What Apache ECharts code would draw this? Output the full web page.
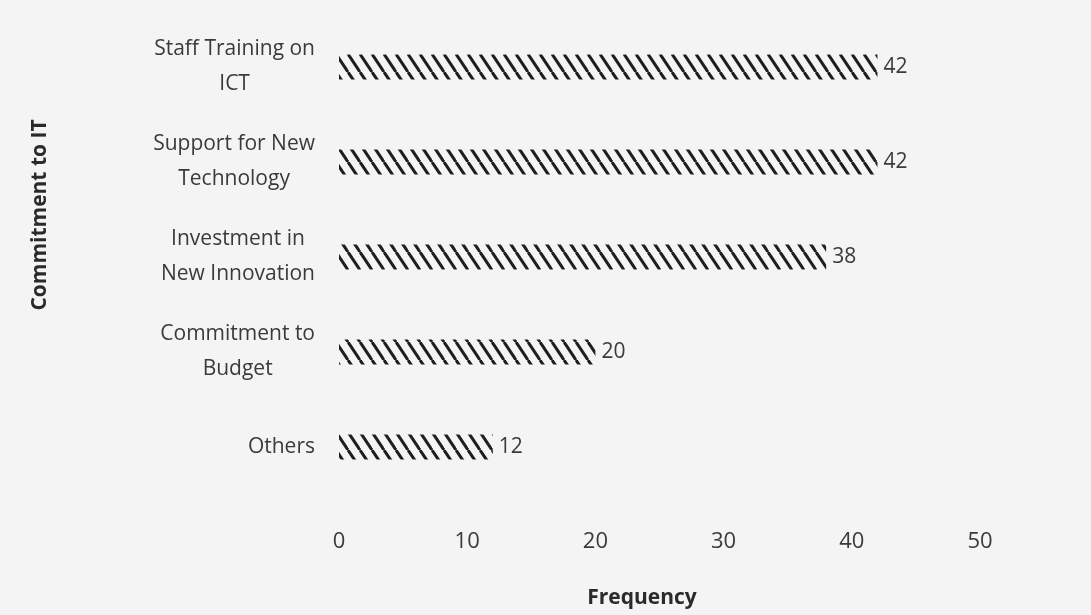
<!DOCTYPE html>
<html>
<head>
<meta charset="utf-8">
<script src="https://cdn.jsdelivr.net/npm/echarts@6/dist/echarts.min.js"></script>
<style>
html,body{margin:0;padding:0;background:#f4f4f4;}
#chart{width:1091px;height:615px;}
</style>
</head>
<body>
<div id="chart"></div>
<script>
const categories = ['Staff Training on\nICT', 'Support for New\nTechnology', 'Investment in\nNew Innovation', 'Commitment to\nBudget', 'Others'];
const values = [42, 42, 38, 20, 12];
const xTicks = [0, 10, 20, 30, 40, 50];
const xTitle = 'Frequency';
const yTitle = 'Commitment to IT';

function makePattern() {
  const c = document.createElement('canvas');
  c.width = 12; c.height = 18;
  const ctx = c.getContext('2d');
  ctx.fillStyle = '#f4f4f4';
  ctx.fillRect(0, 0, 12, 18);
  ctx.strokeStyle = '#1e1e1e';
  ctx.lineWidth = 3;
  [-12, 0, 12].forEach(k => {
    ctx.beginPath(); ctx.moveTo(k, 0); ctx.lineTo(k + 12, 18); ctx.stroke();
  });
  return c;
}

const FONT = '"Open Sans", "Noto Sans", sans-serif';
const TXT = '#3a3a3a';
const chart = echarts.init(document.getElementById('chart'));
chart.setOption({
  backgroundColor: '#f4f4f4',
  animation: false,
  grid: { left: 339, right: 111, top: 19.5, bottom: 120.5, containLabel: false },
  xAxis: {
    type: 'value', min: xTicks[0], max: xTicks[xTicks.length - 1], interval: 10,
    axisLine: { show: false }, axisTick: { show: false }, splitLine: { show: false },
    axisLabel: { margin: 36, fontSize: 22, color: TXT, fontFamily: FONT }
  },
  yAxis: {
    type: 'category', data: categories, inverse: true,
    axisLine: { show: false }, axisTick: { show: false },
    axisLabel: {
      margin: 24, fontSize: 21, color: TXT, fontFamily: FONT, align: 'right', lineHeight: 35,
      formatter: v => v.split('\n').map(s => '{c|' + s + '}').join('\n'),
      rich: { c: { align: 'center', fontSize: 21, color: TXT, fontFamily: FONT, lineHeight: 35 } }
    }
  },
  graphic: [
    { type: 'text', x: 40, y: 215, rotation: Math.PI / 2,
      style: { text: yTitle, font: 'bold 21px ' + FONT, fill: '#2a2a2a', textAlign: 'center', textVerticalAlign: 'middle' } },
    { type: 'text', x: 642, y: 598,
      style: { text: xTitle, font: 'bold 21px ' + FONT, fill: '#2a2a2a', textAlign: 'center', textVerticalAlign: 'middle' } }
  ],
  series: [{
    type: 'bar', data: values, barWidth: 25,
    itemStyle: { color: { image: makePattern(), repeat: 'repeat' } },
    label: { show: true, position: 'right', distance: 6, fontSize: 21, color: TXT, fontFamily: FONT }
  }]
});
</script>
</body>
</html>
